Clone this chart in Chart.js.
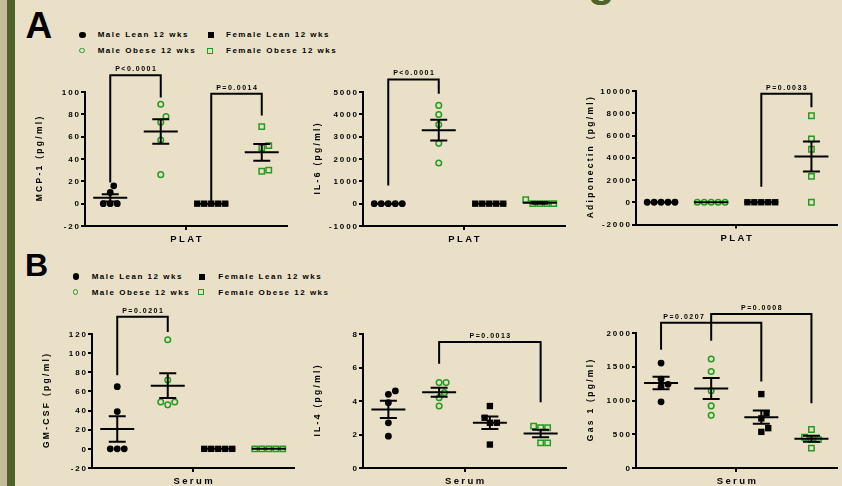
<!DOCTYPE html>
<html>
<head>
<meta charset="utf-8">
<script src="https://cdn.jsdelivr.net/npm/chart.js@4.4.1/dist/chart.umd.min.js"></script>
<style>
body { margin: 0; width: 842px; height: 486px; overflow: hidden; background: #EAE0C8; position: relative; font-family: 'Liberation Sans', Arial, sans-serif; }
.strip1 { position: absolute; left: 0; top: 0; width: 7px; height: 486px; background: #C5BD9A; }
.strip2 { position: absolute; left: 7px; top: 0; width: 8px; height: 486px; background: #4F6228; }
canvas { position: absolute; left: 0; top: 0; }
.letter { position: absolute; font-weight: bold; color: #000; line-height: 1; }
.leg { position: absolute; font-size: 8px; line-height: 10px; font-weight: bold; letter-spacing: 1.5px; white-space: nowrap; color: #000; }
.mk { position: absolute; box-sizing: content-box; }
</style>
</head>
<body>
<div class="strip1"></div><div class="strip2"></div>
<div class="letter" style="left:588px;top:-41.5px;font-size:44px;color:#4F6228">g</div>
<div class="letter" style="left:25.5px;top:6.5px;font-size:37px">A</div>
<div class="letter" style="left:25px;top:248.6px;font-size:32px">B</div>
<script>
var groups = ['Male Lean 12 wks', 'Male Obese 12 wks', 'Female Lean 12 wks', 'Female Obese 12 wks'];

// A - PLAT
var mcp1 = [[0, 0, 0, 10, 16], [26, 57, 73, 78, 89], [0, 0, 0, 0, 0], [29, 30, 50, 52, 69]];
var mcp1Ticks = [-20, 0, 20, 40, 60, 80, 100];
var il6 = [[0, 0, 0, 0, 0], [1820, 2700, 3540, 3990, 4400], [0, 0, 0, 0, 0], [0, 0, 0, 0, 180]];
var il6Ticks = [-1000, 0, 1000, 2000, 3000, 4000, 5000];
var adipo = [[0, 0, 0, 0, 0], [0, 0, 0, 0, 0], [0, 0, 0, 0, 0], [0, 2330, 4760, 5690, 7780]];
var adipoTicks = [-2000, 0, 2000, 4000, 6000, 8000, 10000];

// B - Serum
var gmcsf = [[0, 0, 0, 39, 65], [46, 49, 49, 72, 114], [0, 0, 0, 0, 0], [0, 0, 0, 0, 0]];
var gmcsfTicks = [-20, 0, 20, 40, 60, 80, 100, 120];
var il4 = [[1.9, 2.7, 3.9, 4.4, 4.6], [3.7, 4.2, 4.5, 5.1, 5.1], [1.4, 2.7, 2.7, 3.0, 3.7], [1.5, 1.5, 2.4, 2.4, 2.5]];
var il4Ticks = [0, 2, 4, 6, 8];
var gas1 = [[980, 1205, 1240, 1315, 1555], [780, 920, 1145, 1430, 1615], [535, 590, 735, 810, 1095], [295, 420, 420, 455, 570]];
var gas1Ticks = [0, 500, 1000, 1500, 2000];

// significance brackets: text, group a, group b, top of bracket, end of leg a, end of leg b
var mcp1P = [['P<0.0001', 1, 2, 115, 19, 95], ['P=0.0014', 3, 4, 98.5, 1, 79]];
var il6P = [['P<0.0001', 1, 2, 5565, 811, 4920]];
var adipoP = [['P=0.0033', 3, 4, 9755, 1400, 8530]];
var gmcsfP = [['P=0.0201', 1, 2, 138, 77, 122]];
var il4P = [['P=0.0013', 2, 4, 7.52, 6.22, 3.92]];
var gas1P = [['P=0.0207', 1, 3, 2153, 1751, 1280, 1.45], ['P=0.0008', 2, 4, 2283, 1885, 958]];

var green = '#249C24';
var FONT = "'Liberation Sans', Arial, sans-serif";
Chart.defaults.font.family = FONT;

var shapes = [
	{pointStyle: 'circle', pointRadius: 3.4, pointBackgroundColor: '#000', pointBorderColor: '#000', pointBorderWidth: 0},
	{pointStyle: 'circle', pointRadius: 2.8, pointBackgroundColor: 'rgba(0,0,0,0)', pointBorderColor: green, pointBorderWidth: 1.5},
	{pointStyle: 'rect', pointRadius: 4.5, pointBackgroundColor: '#000', pointBorderColor: '#000', pointBorderWidth: 0},
	{pointStyle: 'rect', pointRadius: 3.8, pointBackgroundColor: 'rgba(0,0,0,0)', pointBorderColor: green, pointBorderWidth: 1.5}
];

function mean(a) {
	var s = 0
	for (var i = 0; i < a.length; i++) s += a[i]
	return s / a.length
}

function sem(a) {
	var m = mean(a), ss = 0
	for (var i = 0; i < a.length; i++) ss += (a[i] - m) * (a[i] - m)
	return Math.sqrt(ss / (a.length - 1)) / Math.sqrt(a.length)
}

// spread overlapping points sideways, like the prism scatter
function swarm(vals, center, kx, ky) {
	var D = 7, placed = [], pts = []
	vals.forEach(function(v) {
		var y = v * ky, dx = 0
		for (var k = 0; k < 80; k++) {
			var c = (k % 2 ? 1 : -1) * Math.ceil(k / 2) * D / 4
			var ok = placed.every(function(q) {
				return (q[0] - c) * (q[0] - c) + (q[1] - y) * (q[1] - y) >= D * D - 0.01
			})
			if (ok) { dx = c; break }
		}
		placed.push([dx, y])
		pts.push({x: center + dx / kx, y: v})
	})
	return pts
}

function spaced(ctx, text, x, y, spacing) {
	ctx.letterSpacing = spacing + 'px'
	var shift = ctx.textAlign == 'center' ? spacing / 2 : (ctx.textAlign == 'right' ? spacing : 0)
	ctx.fillText(text, x + shift, y)
}

function makePanel(p) {
	var cv = document.createElement('canvas')
	cv.width = 842; cv.height = 486
	document.body.appendChild(cv)
	var box = p.box
	var yMin = p.ticks[0], yMax = p.ticks[p.ticks.length - 1]
	var kx = (box[2] - box[0]) / 4, ky = (box[3] - box[1]) / (yMax - yMin)
	var YW = 30, XH = 10

	var datasets = p.values.map(function(vals, g) {
		var d = {label: groups[g], data: swarm(vals, g + 1, kx, ky), clip: false, showLine: false}
		for (var k in shapes[g]) d[k] = shapes[g][k]
		return d
	})

	var extras = {
		id: 'extras',
		afterDatasetsDraw: function(chart) {
			var ctx = chart.ctx, xs = chart.scales.x, ys = chart.scales.y
			ctx.save()
			ctx.strokeStyle = '#000'
			ctx.lineWidth = 2
			p.values.forEach(function(vals, g) {
				var m = mean(vals), s = sem(vals)
				var cx = xs.getPixelForValue(g + 1)
				var ym = ys.getPixelForValue(m), yt = ys.getPixelForValue(m + s), yb = ys.getPixelForValue(m - s)
				ctx.beginPath()
				ctx.moveTo(cx - 17, ym); ctx.lineTo(cx + 17, ym)
				ctx.moveTo(cx - 8.5, yt); ctx.lineTo(cx + 8.5, yt)
				ctx.moveTo(cx - 8.5, yb); ctx.lineTo(cx + 8.5, yb)
				ctx.moveTo(cx, yt); ctx.lineTo(cx, yb)
				ctx.stroke()
			})
			ctx.fillStyle = '#000'
			ctx.font = 'bold 7px ' + FONT
			ctx.textAlign = 'center'
			ctx.textBaseline = 'alphabetic'
			p.pvals.forEach(function(b) {
				var xa = xs.getPixelForValue(b[1]), xb = xs.getPixelForValue(b[2])
				var top = ys.getPixelForValue(b[3])
				ctx.beginPath()
				ctx.moveTo(xa, ys.getPixelForValue(b[4]))
				ctx.lineTo(xa, top)
				ctx.lineTo(xb, top)
				ctx.lineTo(xb, ys.getPixelForValue(b[5]))
				ctx.stroke()
				var lx = b[6] ? xs.getPixelForValue(b[6]) : (xa + xb) / 2
				spaced(ctx, b[0], lx, top - 4, 1.5)
			})
			ctx.restore()
		},
		afterDraw: function(chart) {
			var ctx = chart.ctx, a = chart.chartArea, ys = chart.scales.y
			ctx.save()
			ctx.fillStyle = '#000'
			// y tick labels, taken from the scale's own ticks
			ctx.textAlign = 'right'
			ctx.textBaseline = 'middle'
			ctx.font = 'bold 8px ' + FONT
			ys.ticks.forEach(function(t) {
				spaced(ctx, String(t.value), a.left - 6, ys.getPixelForValue(t.value) + 0.5, 1.9)
			})
			ctx.textAlign = 'center'
			ctx.font = 'bold 9.5px ' + FONT
			spaced(ctx, p.xTitle, (a.left + a.right) / 2, a.bottom + 13.5, 2.4)
			ctx.translate(a.left - 45, (a.top + a.bottom) / 2)
			ctx.rotate(-Math.PI / 2)
			ctx.font = 'bold 8.5px ' + FONT
			spaced(ctx, p.title, 0, 0, 2.3)
			ctx.restore()
		}
	}

	new Chart(cv, {
		type: 'scatter',
		data: {datasets: datasets},
		options: {
			responsive: false,
			animation: false,
			devicePixelRatio: 1,
			events: [],
			layout: {padding: {left: box[0] - YW, top: box[1], right: 842 - box[2], bottom: 486 - box[3] - XH}},
			plugins: {legend: {display: false}, tooltip: {enabled: false}},
			scales: {
				x: {
					type: 'linear', min: 0.5, max: 4.5,
					afterBuildTicks: function(s) { s.ticks = [{value: 2.5}] },
					afterFit: function(s) { s.height = XH },
					ticks: {display: false},
					grid: {drawOnChartArea: false, color: '#000', lineWidth: 2, tickLength: 4},
					border: {color: '#000', width: 2}
				},
				y: {
					min: yMin, max: yMax,
					afterBuildTicks: function(s) { s.ticks = p.ticks.map(function(v) { return {value: v} }) },
					afterFit: function(s) { s.width = YW },
					ticks: {display: false},
					grid: {drawOnChartArea: false, color: '#000', lineWidth: 2, tickLength: 4},
					border: {color: '#000', width: 2}
				}
			}
		},
		plugins: [extras]
	})
}

function makeLegend(mx, tx, rows) {
	groups.forEach(function(name, g) {
		var col = g >= 2 ? 1 : 0, ry = rows[g % 2]
		var mk = document.createElement('div')
		mk.className = 'mk'
		var w
		if (g == 0) { w = 6.6; mk.style.background = '#000'; mk.style.borderRadius = '50%' }
		if (g == 1) { w = 6.8; mk.style.border = '1.5px solid ' + green; mk.style.borderRadius = '50%' }
		if (g == 2) { w = 6.2; mk.style.background = '#000' }
		if (g == 3) { w = 7; mk.style.border = '1.5px solid ' + green }
		var inner = (g == 1 || g == 3) ? w - 3 : w
		mk.style.width = inner + 'px'
		mk.style.height = inner + 'px'
		mk.style.left = (mx[col] - w / 2) + 'px'
		mk.style.top = (ry - w / 2) + 'px'
		document.body.appendChild(mk)
		var t = document.createElement('div')
		t.className = 'leg'
		t.textContent = name
		t.style.left = tx[col] + 'px'
		t.style.top = (ry - 5) + 'px'
		document.body.appendChild(t)
	})
}

makeLegend([82.7, 210.7], [97.7, 226], [35, 51])
makeLegend([76, 201.7], [91.7, 218.3], [276.7, 292.7])

var panels = [
	{values: mcp1, ticks: mcp1Ticks, pvals: mcp1P, title: 'MCP-1 (pg/ml)', xTitle: 'PLAT', box: [85, 92, 287, 226]},
	{values: il6, ticks: il6Ticks, pvals: il6P, title: 'IL-6 (pg/ml)', xTitle: 'PLAT', box: [363, 92, 565, 226]},
	{values: adipo, ticks: adipoTicks, pvals: adipoP, title: 'Adiponectin (pg/ml)', xTitle: 'PLAT', box: [636, 91, 838, 224.5]},
	{values: gmcsf, ticks: gmcsfTicks, pvals: gmcsfP, title: 'GM-CSF (pg/ml)', xTitle: 'Serum', box: [92, 334, 294, 468]},
	{values: il4, ticks: il4Ticks, pvals: il4P, title: 'IL-4 (pg/ml)', xTitle: 'Serum', box: [363, 334, 566, 468]},
	{values: gas1, ticks: gas1Ticks, pvals: gas1P, title: 'Gas 1 (pg/ml)', xTitle: 'Serum', box: [636, 333, 838, 468]}
]
panels.forEach(makePanel)
</script>
</body>
</html>
